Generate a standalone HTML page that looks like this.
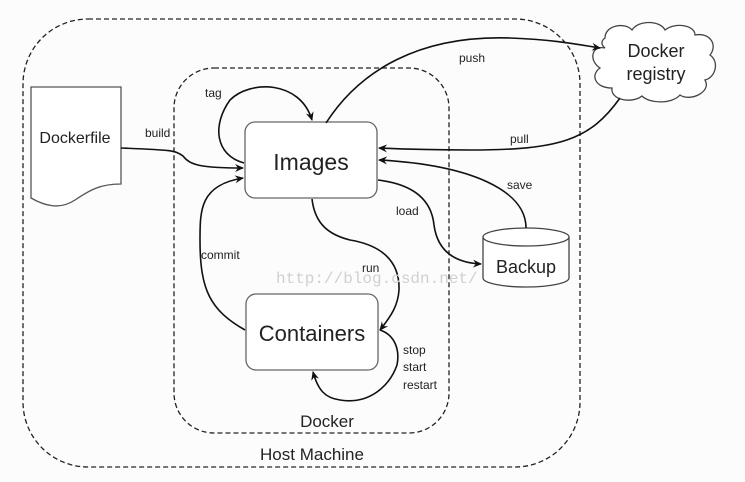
<!DOCTYPE html>
<html><head><style>
html,body{margin:0;padding:0;background:#fff}
svg{display:block}
text{font-family:"Liberation Sans",sans-serif;fill:#222}
</style></head><body>
<svg width="745" height="482" viewBox="0 0 745 482" xmlns="http://www.w3.org/2000/svg">
<defs>
<marker id="a" markerWidth="10" markerHeight="10" refX="8" refY="5" orient="auto" markerUnits="userSpaceOnUse">
<path d="M0,1 L9,5 L0,9 L3,5 Z" fill="#111"/></marker>
</defs>
<rect x="0" y="0" width="745" height="482" fill="#fcfcfc"/>
<rect x="23" y="19" width="557" height="448" rx="65" fill="none" stroke="#222" stroke-width="1.3" stroke-dasharray="5,3"/>
<rect x="174" y="68" width="275" height="365" rx="40" fill="none" stroke="#222" stroke-width="1.3" stroke-dasharray="5,3"/>
<path d="M31,87 L121,87 L121,184 C100,184 90,190 75,200 C60,210 45,206 31,198 Z" fill="#fff" stroke="#555" stroke-width="1.3"/>
<text x="75" y="143" font-size="16" text-anchor="middle">Dockerfile</text>
<text x="145" y="137" font-size="12">build</text>
<rect x="245" y="122" width="132" height="76" rx="10" fill="#fff" stroke="#666" stroke-width="1.3"/>
<text x="311" y="170" font-size="23" text-anchor="middle">Images</text>
<rect x="246" y="294" width="132" height="76" rx="10" fill="#fff" stroke="#666" stroke-width="1.3"/>
<text x="312" y="341" font-size="22" text-anchor="middle">Containers</text>
<path d="M483,237 L483,278 A43,9 0 0 0 569,278 L569,237" fill="#fff" stroke="#444" stroke-width="1.3"/>
<ellipse cx="526" cy="237" rx="43" ry="9" fill="#fff" stroke="#444" stroke-width="1.3"/>
<text x="526" y="273" font-size="18" text-anchor="middle">Backup</text>
<path d="M605,38 C605,25 625,22 632,30 C638,20 660,20 665,30 C675,22 695,25 695,35 C710,32 718,45 710,55 C720,62 715,78 705,80 C712,92 690,102 680,95 C672,104 650,104 642,96 C632,104 610,100 612,88 C595,88 590,75 600,68 C588,60 592,45 605,48 C600,44 602,40 605,38 Z" fill="#fff" stroke="#444" stroke-width="1.3"/>
<text x="656" y="57" font-size="18" text-anchor="middle">Docker</text>
<text x="656" y="80" font-size="18" text-anchor="middle">registry</text>
<g fill="none" stroke="#111" stroke-width="1.6">
<path d="M121,148 C170,150 175,150 183,156 C190,165 200,168 243,168" marker-end="url(#a)"/>
<path d="M244,163 C215,155 212,125 230,100 C250,80 300,80 312,120" marker-end="url(#a)"/>
<path d="M326,123 C360,70 420,35 510,38 C560,40 580,45 600,48" marker-end="url(#a)"/>
<path d="M620,98 C590,140 560,150 470,150 C430,150 400,149 379,148" marker-end="url(#a)"/>
<path d="M526,228 C526,190 470,165 379,160" marker-end="url(#a)"/>
<path d="M378,180 C420,185 432,205 434,225 C438,255 460,263 481,264" marker-end="url(#a)"/>
<path d="M312,199 C315,225 330,235 350,240 C380,245 400,260 399,290 C398,305 392,315 380,330" marker-end="url(#a)"/>
<path d="M380,330 C395,335 400,350 397,365 C390,385 370,405 340,400 C325,398 318,390 313,372" marker-end="url(#a)"/>
<path d="M245,330 C210,310 200,290 200,240 C200,210 200,185 243,178" marker-end="url(#a)"/>
</g>
<g font-size="12">
<text x="205" y="97">tag</text>
<text x="459" y="62">push</text>
<text x="510" y="143">pull</text>
<text x="507" y="189">save</text>
<text x="396" y="215">load</text>
<text x="201" y="259">commit</text>
<text x="362" y="272">run</text>
<text x="403" y="354">stop</text>
<text x="403" y="371">start</text>
<text x="403" y="389">restart</text>
</g>
<text x="327" y="427" font-size="17" text-anchor="middle">Docker</text>
<text x="312" y="460" font-size="17" text-anchor="middle">Host Machine</text>
<text x="276" y="283" font-size="16" style="fill:#d0d0d0;font-family:'Liberation Mono',monospace">http://blog.csdn.net/</text>
</svg>
</body></html>
